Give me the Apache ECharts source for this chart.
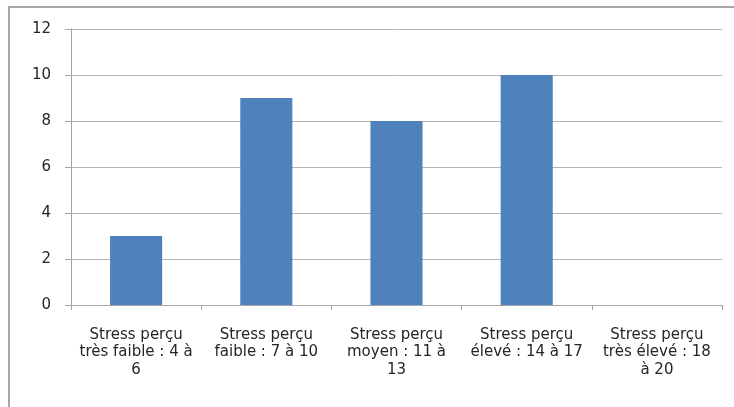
<!DOCTYPE html>
<html>
<head>
    <meta charset="UTF-8">
    <script src="https://cdn.jsdelivr.net/npm/echarts@6/dist/echarts.min.js"></script>
    <style>
        html, body { margin: 0; padding: 0; background: #ffffff; }
        #main { width: 734px; height: 407px; }
    </style>
</head>
<body>
<div id="main"></div>
<script type="text/javascript">
    // catégories de stress perçu et effectifs
    var categories = [
        'Stress perçu\ntrès faible : 4 à\n6',
        'Stress perçu\nfaible : 7 à 10',
        'Stress perçu\nmoyen : 11 à\n13',
        'Stress perçu\nélevé : 14 à 17',
        'Stress perçu\ntrès élevé : 18\nà 20'
    ];
    var effectifs = [3, 9, 8, 10, 0];
    var yTicks = [0, 2, 4, 6, 8, 10, 12];

    var myChart = echarts.init(document.getElementById('main'));

    var option = {
        animation: false,
        textStyle: {fontFamily: 'DejaVu Sans'},
        graphic: [
            {
                type: 'rect',
                shape: {x: 9, y: 7, width: 740, height: 420},
                style: {fill: 'none', stroke: '#8a8a8a', lineWidth: 1.5}
            }
        ],
        grid: {
            left: 71,
            right: 12,
            top: 29,
            bottom: 102
        },
        xAxis: {
            type: 'category',
            data: categories,
            axisLine: {lineStyle: {color: '#a6a6a6'}},
            axisTick: {show: true, length: 5, lineStyle: {color: '#a6a6a6'}},
            axisLabel: {
                color: '#262626',
                fontSize: 15,
                lineHeight: 17.5,
                margin: 21,
                interval: 0
            }
        },
        yAxis: {
            type: 'value',
            min: yTicks[0],
            max: yTicks[yTicks.length - 1],
            interval: 2,
            axisLine: {show: true, lineStyle: {color: '#a6a6a6'}},
            axisTick: {show: true, length: 6, lineStyle: {color: '#a6a6a6'}},
            splitLine: {lineStyle: {color: '#b4b4b4'}},
            axisLabel: {color: '#262626', fontSize: 15, margin: 20}
        },
        series: [
            {
                type: 'bar',
                data: effectifs,
                barWidth: '40%',
                itemStyle: {color: '#4f81bd'}
            }
        ]
    };

    myChart.setOption(option);
</script>
</body>
</html>
